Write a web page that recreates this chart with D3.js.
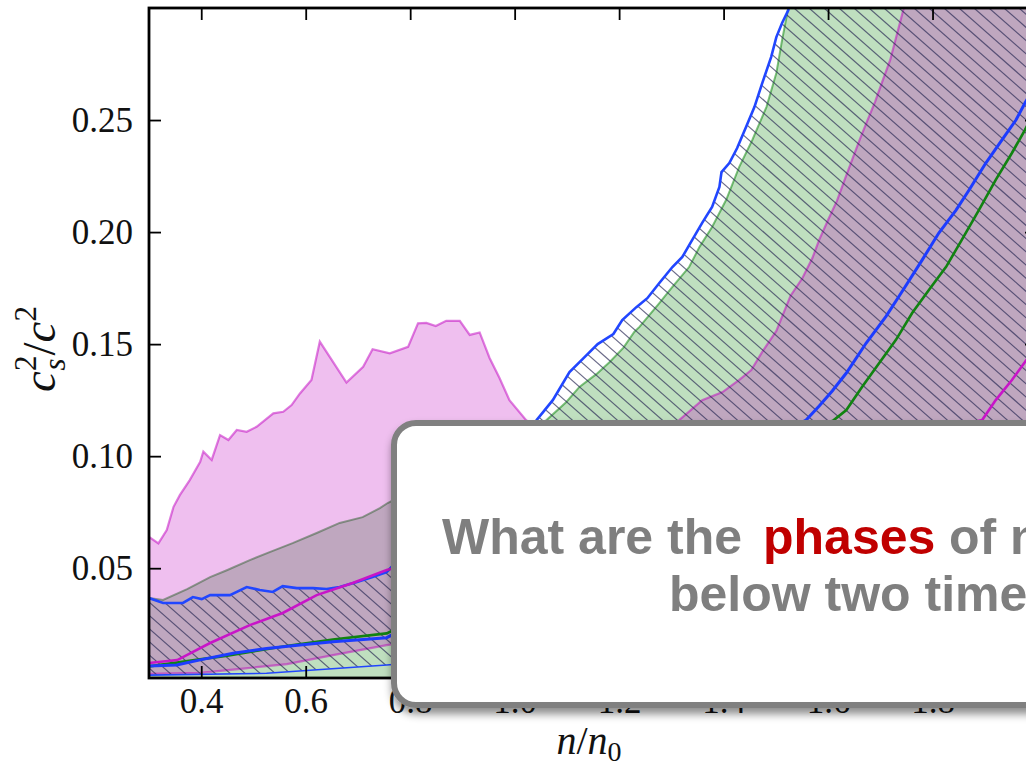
<!DOCTYPE html>
<html>
<head>
<meta charset="utf-8">
<script src="https://cdn.jsdelivr.net/npm/d3@7"></script>
<style>
  html, body { margin: 0; padding: 0; background: #fff; }
  svg { display: block; }
</style>
</head>
<body>
<script>
// ---- data: speed of sound bands, [n/n0, cs^2/c^2] ----
const xTicks = [0.4, 0.6, 0.8, 1.0, 1.2, 1.4, 1.6, 1.8];
const yTicks = [0.05, 0.10, 0.15, 0.20, 0.25];

// magenta band (upper / lower edge)
const pinkUpper = [[0.300,0.0640],[0.318,0.0611],[0.334,0.0670],[0.347,0.0774],[0.359,0.0826],[0.378,0.0893],[0.398,0.0975],[0.404,0.1020],[0.420,0.0983],[0.436,0.1094],[0.452,0.1072],[0.468,0.1117],[0.487,0.1109],[0.506,0.1131],[0.538,0.1191],[0.557,0.1198],[0.573,0.1228],[0.589,0.1280],[0.611,0.1340],[0.627,0.1511],[0.678,0.1328],[0.710,0.1399],[0.728,0.1477],[0.761,0.1459],[0.796,0.1488],[0.815,0.1593],[0.831,0.1595],[0.849,0.1581],[0.869,0.1604],[0.895,0.1604],[0.914,0.1541],[0.933,0.1552],[0.952,0.1438],[0.971,0.1349],[0.990,0.1250],[1.022,0.1161],[1.170,0.0900],[1.315,0.1161],[1.359,0.1250],[1.398,0.1286],[1.430,0.1340],[1.453,0.1384],[1.474,0.1465],[1.501,0.1559],[1.528,0.1715],[1.551,0.1795],[1.570,0.1884],[1.583,0.1965],[1.600,0.2054],[1.617,0.2139],[1.631,0.2228],[1.646,0.2322],[1.661,0.2415],[1.675,0.2496],[1.690,0.2581],[1.705,0.2679],[1.719,0.2768],[1.730,0.2866],[1.744,0.2991],[1.760,0.3200],[2.000,0.4500]];
const pinkLower = [[0.300,0.0028],[0.398,0.0033],[0.480,0.0052],[0.564,0.0072],[0.652,0.0112],[0.755,0.0157],[2.000,0.0600]];

// green band
const greenUpper = [[0.300,0.0367],[0.327,0.0358],[0.373,0.0407],[0.417,0.0460],[0.449,0.0491],[0.493,0.0536],[0.531,0.0572],[0.575,0.0612],[0.621,0.0657],[0.665,0.0702],[0.709,0.0728],[0.742,0.0768],[0.757,0.0791],[1.061,0.1161],[1.099,0.1242],[1.124,0.1309],[1.157,0.1367],[1.182,0.1420],[1.208,0.1483],[1.229,0.1554],[1.239,0.1577],[1.277,0.1683],[1.302,0.1755],[1.334,0.1844],[1.354,0.1934],[1.378,0.2023],[1.405,0.2144],[1.430,0.2291],[1.455,0.2411],[1.482,0.2558],[1.501,0.2710],[1.512,0.2857],[1.522,0.2977],[1.530,0.3100],[2.000,0.4500]];
const greenLower = [[0.300,0.0008],[2.000,0.0008]];

// blue hatched band
const blueUpper = [[0.300,0.0367],[0.327,0.0345],[0.365,0.0345],[0.384,0.0371],[0.401,0.0362],[0.417,0.0380],[0.455,0.0380],[0.487,0.0416],[0.512,0.0403],[0.537,0.0394],[0.556,0.0420],[0.583,0.0411],[0.614,0.0411],[0.640,0.0407],[0.665,0.0416],[0.698,0.0438],[0.728,0.0461],[0.755,0.0483],[1.042,0.1161],[1.073,0.1250],[1.105,0.1375],[1.130,0.1433],[1.159,0.1500],[1.189,0.1545],[1.206,0.1607],[1.233,0.1665],[1.254,0.1705],[1.277,0.1773],[1.302,0.1844],[1.321,0.1889],[1.340,0.1965],[1.359,0.2041],[1.378,0.2112],[1.392,0.2201],[1.396,0.2268],[1.411,0.2308],[1.426,0.2375],[1.443,0.2469],[1.459,0.2558],[1.474,0.2665],[1.491,0.2781],[1.501,0.2870],[1.512,0.2933],[1.524,0.2991],[1.530,0.3100],[2.000,0.4500]];
const blueLower = [[0.300,0.0023],[0.525,0.0031],[0.755,0.0068],[2.000,0.0300]];

// central curves
const blueMid = [[0.300,0.0064],[0.353,0.0068],[0.398,0.0091],[0.461,0.0120],[0.525,0.0142],[0.589,0.0157],[0.652,0.0172],[0.755,0.0190],[1.558,0.1161],[1.583,0.1224],[1.608,0.1291],[1.635,0.1371],[1.673,0.1505],[1.711,0.1624],[1.747,0.1754],[1.780,0.1875],[1.812,0.1996],[1.845,0.2098],[1.870,0.2188],[1.902,0.2308],[1.933,0.2411],[1.960,0.2501],[1.977,0.2576],[2.000,0.2670]];
const greenMid = [[0.300,0.0062],[0.450,0.0110],[0.563,0.0153],[0.652,0.0182],[0.755,0.0209],[1.611,0.1161],[1.635,0.1206],[1.665,0.1309],[1.698,0.1416],[1.730,0.1519],[1.761,0.1639],[1.793,0.1742],[1.826,0.1845],[1.856,0.1965],[1.889,0.2099],[1.921,0.2233],[1.952,0.2353],[1.977,0.2456],[2.000,0.2560]];
const magentaMid = [[0.300,0.0077],[0.354,0.0090],[0.417,0.0166],[0.493,0.0246],[0.556,0.0300],[0.621,0.0380],[0.690,0.0434],[0.755,0.0492],[1.895,0.1161],[1.921,0.1250],[1.952,0.1340],[1.977,0.1420],[2.000,0.1500]];

// ---- layout ----
const W = 1026, H = 769;
const plot = { left: 149, right: 1037, top: 8, bottom: 678 };

const svg = d3.select("body").append("svg")
  .attr("width", W).attr("height", H)
  .attr("viewBox", `0 0 ${W} ${H}`);

const x = d3.scaleLinear().domain([0.3, 2.0]).range([plot.left, plot.right]);
const y = d3.scaleLinear().domain([0.001, 0.30]).range([plot.bottom, plot.top]);

const line = d3.line().x(d => x(d[0])).y(d => y(d[1]));
const band = (up, lo) => line(up.concat(lo.slice().reverse())) + "Z";

const defs = svg.append("defs");
defs.append("clipPath").attr("id", "plotClip")
  .append("rect")
  .attr("x", plot.left).attr("y", plot.top)
  .attr("width", plot.right - plot.left).attr("height", plot.bottom - plot.top);
defs.append("clipPath").attr("id", "blueClip")
  .append("path").attr("d", band(blueUpper, blueLower));

const shadow = defs.append("filter").attr("id", "boxShadow")
  .attr("x", "-10%").attr("y", "-10%").attr("width", "130%").attr("height", "140%");
shadow.append("feDropShadow")
  .attr("dx", 1).attr("dy", 6).attr("stdDeviation", 4)
  .attr("flood-color", "#000").attr("flood-opacity", 0.45);

const g = svg.append("g").attr("clip-path", "url(#plotClip)");

// green band
g.append("path").attr("d", band(greenUpper, greenLower))
  .attr("fill", "rgb(0,128,0)").attr("fill-opacity", 0.25);
g.append("path").attr("d", line(greenUpper))
  .attr("fill", "none").attr("stroke", "rgb(0,128,0)").attr("stroke-opacity", 0.5)
  .attr("stroke-width", 2);

// magenta band
g.append("path").attr("d", band(pinkUpper, pinkLower))
  .attr("fill", "rgb(191,0,191)").attr("fill-opacity", 0.25);
[pinkUpper, pinkLower].forEach(e =>
  g.append("path").attr("d", line(e))
    .attr("fill", "none").attr("stroke", "rgb(191,0,191)").attr("stroke-opacity", 0.5)
    .attr("stroke-width", 2.2));

// blue band: "\\" hatching
const hatch = g.append("g").attr("clip-path", "url(#blueClip)");
const hatchStep = 15, hatchSlope = 0.88;
const hatchRun = (plot.bottom - plot.top) / hatchSlope;
hatch.selectAll("line").data(d3.range(-70, 70)).join("line")
  .attr("x1", k => plot.left + k * hatchStep)
  .attr("y1", plot.top)
  .attr("x2", k => plot.left + k * hatchStep + hatchRun)
  .attr("y2", plot.bottom)
  .attr("stroke", "#2b2b55").attr("stroke-opacity", 0.7).attr("stroke-width", 1.15);

g.append("path").attr("d", line(blueUpper))
  .attr("fill", "none").attr("stroke", "#2146ff").attr("stroke-width", 2.6);
g.append("path").attr("d", line(blueLower))
  .attr("fill", "none").attr("stroke", "#2146ff").attr("stroke-width", 1.6);

// central curves
g.append("path").attr("d", line(greenMid))
  .attr("fill", "none").attr("stroke", "#118311").attr("stroke-width", 2.6);
g.append("path").attr("d", line(blueMid))
  .attr("fill", "none").attr("stroke", "#1d3cff").attr("stroke-width", 3);
g.append("path").attr("d", line(magentaMid))
  .attr("fill", "none").attr("stroke", "#c815c8").attr("stroke-width", 2.6);

// ---- axes ----
const tickFont = "'Liberation Serif', 'Times New Roman', serif";
const styleAxis = sel => {
  sel.select(".domain").remove();
  sel.selectAll(".tick line").attr("stroke", "#000").attr("stroke-width", 1.8);
  sel.selectAll(".tick text").attr("font-family", tickFont).attr("font-size", 35).attr("fill", "#111");
};
svg.append("g").attr("transform", `translate(0,${plot.bottom})`)
  .call(d3.axisBottom(x).tickValues(xTicks).tickSize(-12).tickPadding(10).tickFormat(d3.format(".1f")))
  .call(styleAxis);
svg.append("g").attr("transform", `translate(0,${plot.top})`)
  .call(d3.axisTop(x).tickValues(xTicks).tickSize(-12).tickFormat(""))
  .call(styleAxis);
svg.append("g").attr("transform", `translate(${plot.left},0)`)
  .call(d3.axisLeft(y).tickValues(yTicks).tickSize(-12).tickPadding(16).tickFormat(d3.format(".2f")))
  .call(styleAxis);
svg.append("g").attr("transform", `translate(${plot.right},0)`)
  .call(d3.axisRight(y).tickValues(yTicks).tickSize(-12).tickFormat(""))
  .call(styleAxis);

svg.append("rect")
  .attr("x", plot.left).attr("y", plot.top)
  .attr("width", plot.right - plot.left).attr("height", plot.bottom - plot.top)
  .attr("fill", "none").attr("stroke", "#000").attr("stroke-width", 2.8);

// axis titles
const yl = svg.append("text")
  .attr("transform", `translate(55,${(plot.top + plot.bottom) / 2 + 6}) rotate(-90)`)
  .attr("text-anchor", "middle")
  .attr("font-family", tickFont).attr("font-size", 47).attr("font-style", "italic")
  .attr("fill", "#111");
yl.append("tspan").text("c");
yl.append("tspan").attr("font-size", 31).attr("font-style", "normal").attr("dy", -19).text("2");
yl.append("tspan").attr("font-size", 31).attr("dx", -15).attr("dy", 29).text("s");
yl.append("tspan").attr("font-style", "normal").attr("dy", -10).attr("dx", 3).text("/");
yl.append("tspan").text("c");
yl.append("tspan").attr("font-size", 31).attr("font-style", "normal").attr("dy", -19).text("2");

const xl = svg.append("text")
  .attr("x", (plot.left + plot.right) / 2 - 4).attr("y", 754)
  .attr("text-anchor", "middle")
  .attr("font-family", tickFont).attr("font-size", 40).attr("font-style", "italic")
  .attr("fill", "#111");
xl.append("tspan").text("n");
xl.append("tspan").attr("font-style", "normal").text("/");
xl.append("tspan").text("n");
xl.append("tspan").attr("font-size", 28).attr("font-style", "normal").attr("dy", 7).text("0");

// ---- question callout ----
svg.append("rect")
  .attr("x", 394).attr("y", 423).attr("width", 760).attr("height", 282)
  .attr("rx", 22).attr("ry", 22)
  .attr("fill", "#fff").attr("stroke", "#808080").attr("stroke-width", 6)
  .attr("filter", "url(#boxShadow)");

const qFont = "'Liberation Sans', Arial, sans-serif";
const q1 = svg.append("text").attr("y", 554)
  .attr("font-family", qFont).attr("font-weight", "bold").attr("font-size", 50)
  .attr("fill", "#7f7f7f");
q1.append("tspan").attr("x", 442).text("What are the");
q1.append("tspan").attr("x", 763).attr("fill", "#c00000").text("phases");
q1.append("tspan").attr("x", 949).text("of nuclear matter");

svg.append("text").attr("x", 669).attr("y", 611)
  .attr("font-family", qFont).attr("font-weight", "bold").attr("font-size", 50)
  .attr("fill", "#7f7f7f")
  .text("below two times saturation density?");
</script>
</body>
</html>
